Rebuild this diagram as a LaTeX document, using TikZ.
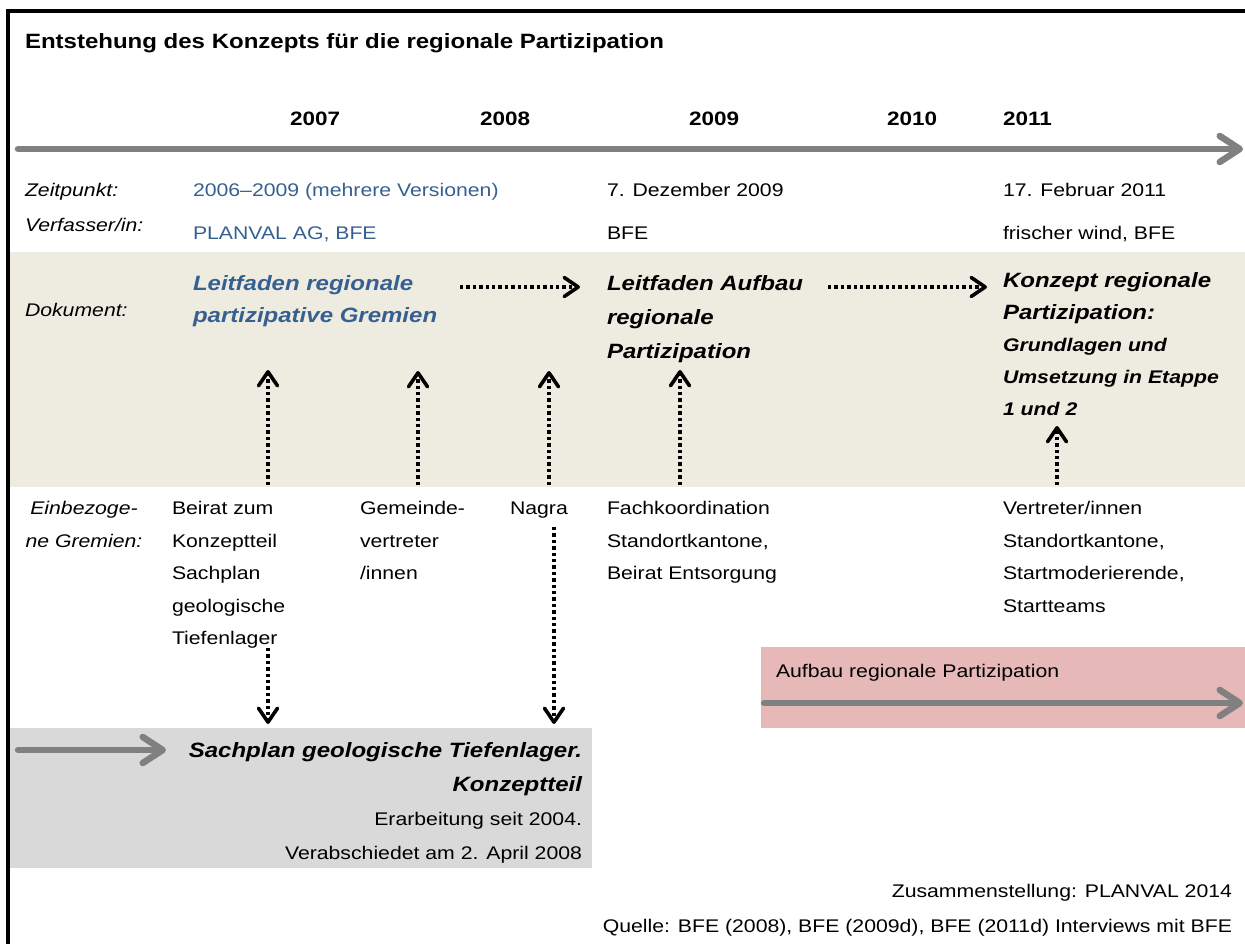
\documentclass[tikz,border=0pt]{standalone}
\usepackage{fontspec}
\setmainfont{Liberation Sans}[FakeStretch=1.16]
\usetikzlibrary{arrows.meta}
\definecolor{tlgray}{HTML}{808080}
\definecolor{bandbeige}{HTML}{EEECE1}
\definecolor{boxgray}{HTML}{D9D9D9}
\definecolor{pinkbox}{HTML}{E6B8B7}
\definecolor{docblue}{HTML}{376092}
\newcommand{\fsBody}{\fontsize{18.3}{32.5}\selectfont}
\newcommand{\fsDoc}{\fontsize{20.7}{34}\selectfont}
\newcommand{\fsDocA}{\fontsize{20.7}{32.5}\selectfont}
\newcommand{\fsKon}{\fontsize{20.7}{32}\selectfont}
\newcommand{\fsKonS}{\fontsize{18.3}{32}\selectfont}
\newcommand{\fsTitle}{\fontsize{20.7}{25}\selectfont}
\newcommand{\fsYear}{\fontsize{19.4}{24}\selectfont}
\newcommand{\fsFoot}{\fontsize{18.3}{35}\selectfont}
\tikzset{
  txt/.style={inner sep=0pt, outer sep=0pt, font=\fsBody},
  lbl/.style={txt, font=\fsBody\itshape},
  doc/.style={inner sep=0pt, outer sep=0pt, font=\fsDoc\bfseries\itshape, align=left},
  yr/.style={inner sep=0pt, outer sep=0pt, font=\fsYear\bfseries},
  grayarrow/.style={draw=tlgray, line width=6.5pt, line cap=round,
    -{Straight Barb[length=20pt,width=26pt,round]}},
  dotarrow/.style={draw=black, line width=3.6pt, dash pattern=on 3.4pt off 3pt,
    -{Straight Barb[length=14pt,width=19pt,round]}}
}
\begin{document}
\begin{tikzpicture}[x=1pt,y=-1pt]
\useasboundingbox (0,0) rectangle (1245,944);
\fill[white] (0,0) rectangle (1245,944);
% backgrounds
\fill[bandbeige] (10,252) rectangle (1245,487);
\fill[boxgray] (10,728) rectangle (592,868);
\fill[pinkbox] (761,647) rectangle (1245,728);
% frame
\draw[line width=3.5pt] (8,944) -- (8,11) -- (1245,11);
% title
\node[txt, font=\fsTitle\bfseries, anchor=base west] (title) at (25,49) {Entstehung des Konzepts für die regionale Partizipation};
% years
\node[yr, anchor=base west] (y2007) at (290,126) {2007};
\node[yr, anchor=base west] (y2008) at (480,126) {2008};
\node[yr, anchor=base west] (y2009) at (689,126) {2009};
\node[yr, anchor=base west] (y2010) at (887,126) {2010};
\node[yr, anchor=base west] (y2011) at (1003,126) {2011};
% timeline
\coordinate (tlS) at (18,149);
\coordinate (tlE) at (1243,149);
\draw[grayarrow] (tlS) -- (tlE);
% Zeitpunkt
\node[lbl, anchor=base west] (lzeit) at (25,197) {Zeitpunkt:};
\node[txt, text=docblue, anchor=base west] (z1) at (193,197) {2006–2009 (mehrere Versionen)};
\node[txt, anchor=base west] (z2) at (607,197) {7. Dezember 2009};
\node[txt, anchor=base west] (z3) at (1003,197) {17. Februar 2011};
% Verfasser
\node[lbl, anchor=base west] (lverf) at (25,232) {Verfasser/in:};
\node[txt, text=docblue, anchor=base west] (v1) at (193,239.5) {PLANVAL AG, BFE};
\node[txt, anchor=base west] (v2) at (607,239.5) {BFE};
\node[txt, anchor=base west] (v3) at (1003,239.5) {frischer wind, BFE};
% Dokument
\node[lbl, anchor=base west] (ldok) at (25,316.5) {Dokument:};
\node[doc, font=\fsDocA\bfseries\itshape, text=docblue, anchor=north west] (d1) at (193,267.25) {\strut Leitfaden regionale\\partizipative Gremien};
\node[doc, anchor=north west] (d2) at (607,266.7) {\strut Leitfaden Aufbau\\regionale\\Partizipation};
\node[doc, font=\fsKon\bfseries\itshape, anchor=north west] (d3) at (1003,265.1) {\strut Konzept regionale\\Partizipation:\\{\fsKonS Grundlagen und}\\{\fsKonS Umsetzung in Etappe}\\{\fsKonS 1 und 2}};
% horizontal dotted arrows
\coordinate (h1s) at (460,287);
\coordinate (h1e) at (580,287);
\coordinate (h2s) at (828,287);
\coordinate (h2e) at (987,287);
\draw[dotarrow] (h1s) -- (h1e);
\draw[dotarrow] (h2s) -- (h2e);
% Gremien
\node[lbl, align=center, anchor=north] (lgrem) at (84,491.75) {\strut Einbezoge-\\ne Gremien:};
\node[txt, align=left, anchor=north west] (g1) at (172,491.75) {\strut Beirat zum\\Konzeptteil\\Sachplan\\geologische\\Tiefenlager};
\node[txt, align=left, anchor=north west] (g2) at (360,491.75) {\strut Gemeinde-\\vertreter\\/innen};
\node[txt, align=left, anchor=north west] (g3) at (510,491.75) {\strut Nagra};
\node[txt, align=left, anchor=north west] (g4) at (607,491.75) {\strut Fachkoordination\\Standortkantone,\\Beirat Entsorgung};
\node[txt, align=left, anchor=north west] (g5) at (1003,491.75) {\strut Vertreter/innen\\Standortkantone,\\Startmoderierende,\\Startteams};
% vertical up arrows
\coordinate (u1s) at (268,485); \coordinate (u1e) at (268,370);
\coordinate (u2s) at (418,485); \coordinate (u2e) at (418,371);
\coordinate (u3s) at (549,485); \coordinate (u3e) at (549,371);
\coordinate (u4s) at (680,485); \coordinate (u4e) at (680,370);
\coordinate (u5s) at (1057,485); \coordinate (u5e) at (1057,426);
\draw[dotarrow] (u1s) -- (u1e);
\draw[dotarrow] (u2s) -- (u2e);
\draw[dotarrow] (u3s) -- (u3e);
\draw[dotarrow] (u4s) -- (u4e);
\draw[dotarrow] (u5s) -- (u5e);
% down arrows
\coordinate (w1s) at (268,648); \coordinate (w1e) at (268,724);
\coordinate (w2s) at (554,527); \coordinate (w2e) at (554,724);
\draw[dotarrow] (w1s) -- (w1e);
\draw[dotarrow] (w2s) -- (w2e);
% Sachplan box
\coordinate (sgS) at (18,750);
\coordinate (sgE) at (166,750);
\draw[grayarrow] (sgS) -- (sgE);
\node[doc, align=right, anchor=north east] (sach) at (582,733.7) {\strut Sachplan geologische Tiefenlager.\\Konzeptteil\\{\fsBody\mdseries\upshape Erarbeitung seit 2004.}\\{\fsBody\mdseries\upshape Verabschiedet am 2. April 2008}};
% Aufbau box
\node[txt, anchor=base west] (aufbau) at (776,677) {Aufbau regionale Partizipation};
\coordinate (apS) at (764,703);
\coordinate (apE) at (1243,703);
\draw[grayarrow] (apS) -- (apE);
% footer
\node[txt, font=\fsFoot, align=right, anchor=north east] (foot) at (1232,872.5) {\strut Zusammenstellung: PLANVAL 2014\\Quelle: BFE (2008), BFE (2009d), BFE (2011d) Interviews mit BFE};
\end{tikzpicture}
\end{document}
